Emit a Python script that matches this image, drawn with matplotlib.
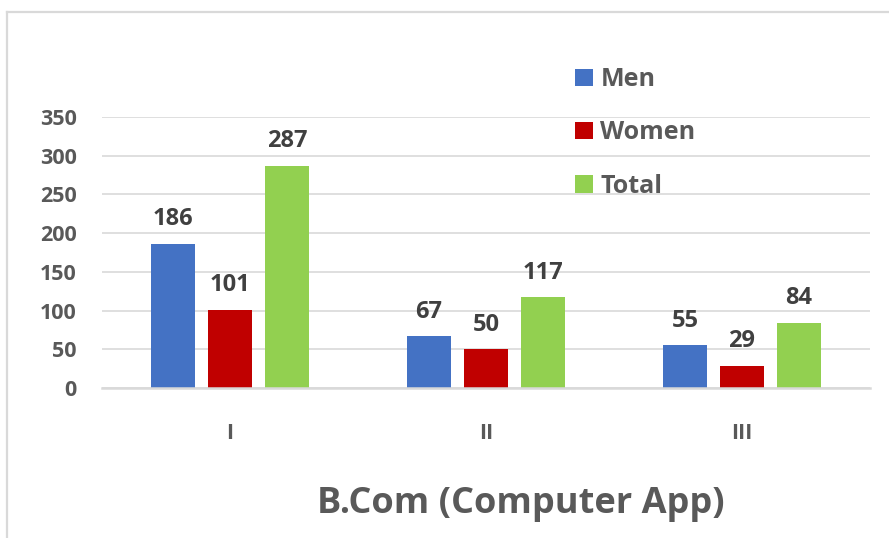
import matplotlib.pyplot as plt
from matplotlib.lines import Line2D
import numpy as np

plt.rcParams['font.family'] = ['Open Sans', 'DejaVu Sans']
plt.rcParams['font.weight'] = 'bold'

# data
years = ['I', 'II', 'III']
men = [186, 67, 55]
women = [101, 50, 29]
total = [287, 117, 84]

series = [('Men', men, '#4472C4'),
          ('Women', women, '#C00000'),
          ('Total', total, '#92D050')]

fig = plt.figure(figsize=(8.89, 5.38), dpi=100)
ax = fig.add_axes([0.1147, 0.2788, 0.8639, 0.5037])

x = np.arange(len(years))
w = 0.172
step = 0.223
handles = []
for i, (name, vals, col) in enumerate(series):
    pos = x + (i - 1) * step
    b = ax.bar(pos, vals, w, color=col, label=name, zorder=2)
    handles.append(b)
    for p, v in zip(pos, vals):
        ax.annotate(str(v), (p, v), xytext=(0, 9), textcoords='offset points',
                    ha='center', va='bottom', fontsize=17, fontweight='bold',
                    color='#404040', annotation_clip=False)

ax.set_xlim(-0.5, 2.5)
ax.set_ylim(0, 350)
ax.set_yticks(range(0, 351, 50))
ax.set_xticks(x)
ax.set_xticklabels(years)
ax.grid(axis='y', color='#D9D9D9', linewidth=1.2, zorder=0)
ax.set_axisbelow(True)
for s in ['top', 'right', 'left']:
    ax.spines[s].set_visible(False)
ax.spines['bottom'].set_color('#D9D9D9')
ax.spines['bottom'].set_linewidth(1.8)
ax.tick_params(axis='both', length=0, labelsize=15.5, labelcolor='#595959')
for t in ax.get_xticklabels() + ax.get_yticklabels():
    t.set_fontweight('bold')
ax.tick_params(axis='y', pad=18)
ax.tick_params(axis='x', pad=25)

leg = fig.legend(handles=handles, loc='upper left', bbox_to_anchor=(0.636, 0.894),
                 frameon=False, fontsize=18, handlelength=0.7, handleheight=0.7,
                 handletextpad=0.3, labelspacing=1.13, borderaxespad=0)
for t in leg.get_texts():
    t.set_color('#595959')
    t.set_fontweight('bold')

fig.text(0.586, 0.064, 'B.Com (Computer App)', ha='center', va='center',
         fontsize=26, fontweight='bold', color='#595959')

# chart border (only top and left visible in the crop)
fig.add_artist(Line2D([7 / 889, 7 / 889], [0, 1 - 12 / 538], transform=fig.transFigure,
                      color='#D9D9D9', linewidth=1.6))
fig.add_artist(Line2D([7 / 889, 1], [1 - 12 / 538, 1 - 12 / 538], transform=fig.transFigure,
                      color='#D9D9D9', linewidth=1.6))

fig.savefig('out.png', dpi=100)
